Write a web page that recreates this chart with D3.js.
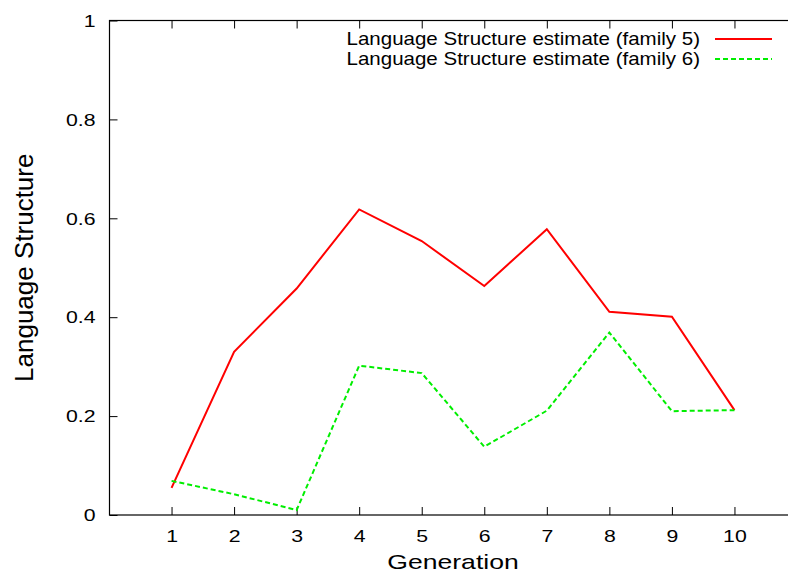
<!DOCTYPE html>
<html>
<head>
<meta charset="utf-8">
<script src="https://cdn.jsdelivr.net/npm/d3@7"></script>
<style>
  body { margin: 0; background: #fff; }
  text { font-family: "Liberation Sans", Arial, sans-serif; fill: #000; }
</style>
</head>
<body>
<div id="chart"></div>
<script>
// data
const generations = [1, 2, 3, 4, 5, 6, 7, 8, 9, 10];
const family5 = [0.055, 0.33, 0.458, 0.618, 0.554, 0.463, 0.578, 0.411, 0.401, 0.212];
const family6 = [0.069, 0.042, 0.010, 0.302, 0.287, 0.138, 0.211, 0.369, 0.210, 0.212];
const xTicks = [1, 2, 3, 4, 5, 6, 7, 8, 9, 10];
const yTicks = [0, 0.2, 0.4, 0.6, 0.8, 1];
const seriesNames = ["Language Structure estimate (family 5)", "Language Structure estimate (family 6)"];

const width = 788, height = 576;
const plotLeft = 109, plotRight = 797, plotTop = 20.5, plotBottom = 515;

const svg = d3.select("#chart").append("svg")
    .attr("width", width)
    .attr("height", height);

const x = d3.scaleLinear().domain([0, 11]).range([plotLeft, plotRight]);
const y = d3.scaleLinear().domain([0, 1]).range([plotBottom, plotTop]);

// frame
svg.append("rect")
    .attr("x", plotLeft + 0.5).attr("y", plotTop)
    .attr("width", plotRight - plotLeft).attr("height", plotBottom - plotTop)
    .attr("fill", "none").attr("stroke", "#000").attr("stroke-width", 1.2);

const stretch = 1.33; // text in the reference is a bit wider than tall

// bottom axis (ticks inward)
const gx = svg.append("g")
    .attr("transform", `translate(0,${plotBottom})`)
    .call(d3.axisBottom(x).tickValues(xTicks).tickSize(-8).tickSizeOuter(0).tickFormat(d3.format("d")));
gx.selectAll("text")
    .attr("y", 0).attr("dy", null)
    .attr("transform", `translate(0,27) scale(${stretch},1)`)
    .style("font-size", "16px");

// mirrored top ticks
svg.append("g")
    .attr("transform", `translate(0,${plotTop})`)
    .call(d3.axisTop(x).tickValues(xTicks).tickSize(-8).tickSizeOuter(0).tickFormat(""));

// left axis
const gy = svg.append("g")
    .attr("transform", `translate(${plotLeft + 0.5},0)`)
    .call(d3.axisLeft(y).tickValues(yTicks).tickSize(-8).tickSizeOuter(0)
        .tickFormat(d => d === 0 || d === 1 ? d3.format("d")(d) : d3.format(".1f")(d)));
gy.selectAll("text")
    .attr("x", 0).attr("dy", "0.36em")
    .attr("transform", `translate(-14,0) scale(${stretch},1)`)
    .style("font-size", "16px");

// mirrored right ticks
svg.append("g")
    .attr("transform", `translate(${plotRight},0)`)
    .call(d3.axisRight(y).tickValues(yTicks).tickSize(-8).tickSizeOuter(0).tickFormat(""));

svg.selectAll(".domain").remove();
svg.selectAll(".tick line").attr("stroke", "#000");

// axis titles
svg.append("text")
    .attr("transform", `translate(${(plotLeft + plotRight) / 2},569) scale(${stretch},1)`)
    .attr("text-anchor", "middle")
    .style("font-size", "20px")
    .text("Generation");

svg.append("text")
    .attr("transform", `translate(33,${(plotTop + plotBottom) / 2}) rotate(-90)`)
    .attr("text-anchor", "middle")
    .style("font-size", "26px")
    .text("Language Structure");

// lines
const line = d3.line()
    .x((d, i) => x(generations[i]))
    .y(d => y(d));

const series = [
    { name: seriesNames[0], values: family5, color: "#ff0000", dash: null },
    { name: seriesNames[1], values: family6, color: "#00ee00", dash: "5,3" }
];

svg.selectAll(".series")
    .data(series)
    .enter().append("path")
    .attr("class", "series")
    .attr("d", d => line(d.values))
    .attr("fill", "none")
    .attr("stroke", d => d.color)
    .attr("stroke-width", 2)
    .attr("stroke-dasharray", d => d.dash);

// legend
const legend = svg.selectAll(".legend")
    .data(series)
    .enter().append("g")
    .attr("class", "legend")
    .attr("transform", (d, i) => `translate(0,${39 + i * 20})`);

legend.append("text")
    .attr("transform", "translate(700,6) scale(1.14,1)")
    .attr("text-anchor", "end")
    .style("font-size", "18px")
    .text(d => d.name);

legend.append("line")
    .attr("x1", 715).attr("x2", 772)
    .attr("stroke", d => d.color)
    .attr("stroke-width", 2)
    .attr("stroke-dasharray", d => d.dash);
</script>
</body>
</html>
